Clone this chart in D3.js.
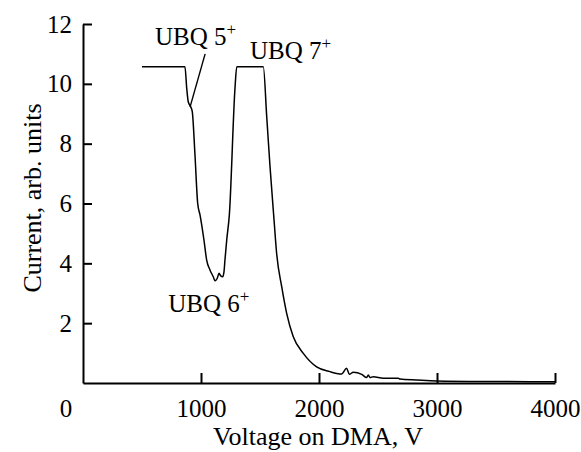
<!DOCTYPE html>
<html>
<head>
<meta charset="utf-8">
<script src="https://cdn.jsdelivr.net/npm/d3@7"></script>
<style>
  body { margin: 0; background: #fff; }
</style>
</head>
<body>
<div id="chart"></div>
<script>
// voltage on DMA (V) and current (arb. units)
var voltage = [500, 864, 879, 892, 913, 926, 949, 972, 992, 1025, 1048, 1076, 1104, 1119, 1138,
  1153, 1167, 1184, 1195, 1203, 1218, 1240, 1288, 1303, 1528, 1557, 1585, 1619, 1641, 1684,
  1726, 1782, 1867, 1980, 2093, 2150, 2192, 2234, 2257, 2291, 2362, 2404, 2418, 2432, 2460,
  2545, 2672, 2686, 2828, 3000, 3500, 4000];
var current = [10.57, 10.57, 9.85, 9.40, 9.23, 9.07, 7.62, 6.0, 5.61, 4.78, 4.11, 3.78, 3.55, 3.42, 3.50,
  3.67, 3.58, 3.55, 3.72, 4.11, 4.78, 5.61, 9.85, 10.57, 10.57, 8.90, 7.23, 5.45, 4.33, 3.22,
  2.33, 1.55, 0.99, 0.54, 0.38, 0.32, 0.30, 0.49, 0.29, 0.36, 0.29, 0.18, 0.27, 0.18, 0.21,
  0.16, 0.16, 0.13, 0.10, 0.07, 0.05, 0.04];

var xTicks = [1000, 2000, 3000, 4000];
var yTicks = [2, 4, 6, 8, 10, 12];

// peak labels: name, charge, position (voltage, current) of the label start
var peakNames = ["UBQ 5", "UBQ 7", "UBQ 6"];
var peakCharges = ["+", "+", "+"];
var peakPos = [[610, 11.3], [1415, 10.82], [723, 2.38]];

var width = 581, height = 452;
var fontSize = 25;
var serif = "Liberation Serif";

var x = d3.scaleLinear().domain([0, 4000]).range([83, 555]);
var y = d3.scaleLinear().domain([0, 12]).range([383, 24]);

var svg = d3.select("#chart").append("svg")
    .attr("width", width)
    .attr("height", height);

function styleAxis(g) {
  g.attr("font-family", null).attr("font-size", null);
  g.select(".domain").attr("stroke-width", 2);
  g.selectAll(".tick line").attr("stroke-width", 2);
  g.selectAll(".tick text")
      .style("font-family", serif)
      .style("font-size", fontSize + "px");
}

// x axis, ticks pointing inward
var xAxis = d3.axisBottom(x)
    .tickValues(xTicks)
    .tickSizeInner(-10)
    .tickSizeOuter(0)
    .tickPadding(16)
    .tickFormat(d3.format("d"));

svg.append("g")
    .attr("transform", "translate(0," + y(0) + ")")
    .call(xAxis)
    .call(styleAxis);

// y axis, ticks pointing inward
var yAxis = d3.axisLeft(y)
    .tickValues(yTicks)
    .tickSizeInner(-9)
    .tickSizeOuter(0)
    .tickPadding(11);

svg.append("g")
    .attr("transform", "translate(" + x(0) + ",0)")
    .call(yAxis)
    .call(styleAxis);

function addText(sel, size) {
  return sel.append("text")
      .style("font-family", serif)
      .style("font-size", (size || fontSize) + "px");
}

// the origin label sits left of the corner
addText(svg)
    .attr("x", x(0) - 17)
    .attr("y", y(0) + 34)
    .attr("text-anchor", "middle")
    .text("0");

// axis titles
addText(svg, 26)
    .attr("x", 318)
    .attr("y", 445)
    .attr("text-anchor", "middle")
    .text("Voltage on DMA, V");

addText(svg, 26)
    .attr("transform", "translate(41,198) rotate(-90)")
    .attr("text-anchor", "middle")
    .text("Current, arb. units");

// the curve
var pts = voltage.map(function(v, i) { return [v, current[i]]; });

var line = d3.line()
    .x(function(d) { return x(d[0]); })
    .y(function(d) { return y(d[1]); })
    .curve(d3.curveMonotoneX);

svg.append("path")
    .datum(pts)
    .attr("fill", "none")
    .attr("stroke", "#000")
    .attr("stroke-width", 1.5)
    .attr("stroke-linejoin", "round")
    .attr("d", line);

// peak labels
peakNames.forEach(function(name, i) {
  var t = addText(svg)
      .attr("x", x(peakPos[i][0]))
      .attr("y", y(peakPos[i][1]))
      .text(name);
  t.append("tspan")
      .attr("dy", -10)
      .style("font-size", "17px")
      .text(peakCharges[i]);
});

// leader line from the 5+ label to the shoulder
svg.append("line")
    .attr("x1", x(1035)).attr("y1", y(11.0))
    .attr("x2", x(907)).attr("y2", y(9.22))
    .attr("stroke", "#000")
    .attr("stroke-width", 1.4);
</script>
</body>
</html>
